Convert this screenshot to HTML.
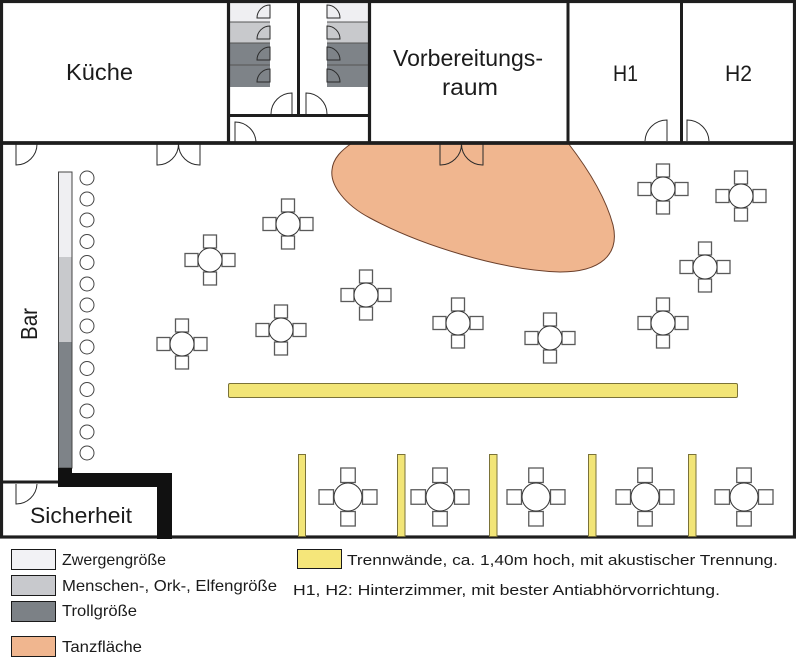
<!DOCTYPE html>
<html>
<head>
<meta charset="utf-8">
<style>
  html,body{margin:0;padding:0;background:#fff;}
  svg{display:block;}
  .lbl{font-family:"Liberation Sans","DejaVu Sans",sans-serif;fill:#1b1b1b;}
</style>
</head>
<body>
<svg width="796" height="661" viewBox="0 0 796 661" xmlns="http://www.w3.org/2000/svg">
  <defs>
    <g id="ts">
      <g fill="#fff" stroke="#5a5a5a" stroke-width="1.3">
        <rect x="-6.5" y="-25" width="13" height="13"/>
        <rect x="-6.5" y="12" width="13" height="13"/>
        <rect x="-25" y="-6.5" width="13" height="13"/>
        <rect x="12" y="-6.5" width="13" height="13"/>
      </g>
      <circle r="12" fill="#fff" stroke="#333" stroke-width="1"/>
    </g>
    <g id="tl">
      <g fill="#fff" stroke="#5a5a5a" stroke-width="1.3">
        <rect x="-7.25" y="-29" width="14.5" height="14.5"/>
        <rect x="-7.25" y="14.5" width="14.5" height="14.5"/>
        <rect x="-29" y="-7.25" width="14.5" height="14.5"/>
        <rect x="14.5" y="-7.25" width="14.5" height="14.5"/>
      </g>
      <circle r="14" fill="#fff" stroke="#333" stroke-width="1"/>
    </g>
  </defs>

  <rect width="796" height="661" fill="#fff"/>

  <!-- Tanzfläche -->
  <path d="M352,143 L568,143 C585,165 605,195 613,225 C620,255 600,272 560,272 C500,270 420,245 370,218 C345,205 330,185 332,170 C333,158 342,150 352,143 Z" fill="#f0b68f" stroke="#6b3f2a" stroke-width="1"/>

  <!-- Toilet stalls -->
  <rect x="230" y="3" width="40" height="19" fill="#efeff2"/>
  <rect x="230" y="22" width="40" height="21" fill="#c8c9cc"/>
  <rect x="230" y="43" width="40" height="22" fill="#7e8388"/>
  <rect x="230" y="65" width="40" height="22" fill="#7e8388"/>
  <rect x="327" y="3" width="41" height="19" fill="#efeff2"/>
  <rect x="327" y="22" width="41" height="21" fill="#c8c9cc"/>
  <rect x="327" y="43" width="41" height="22" fill="#7e8388"/>
  <rect x="327" y="65" width="41" height="22" fill="#7e8388"/>
  <g stroke="#555" stroke-width="1">
    <line x1="230" y1="22" x2="270" y2="22"/>
    <line x1="230" y1="43" x2="270" y2="43"/>
    <line x1="230" y1="65" x2="270" y2="65"/>
    <line x1="327" y1="22" x2="368" y2="22"/>
    <line x1="327" y1="43" x2="368" y2="43"/>
    <line x1="327" y1="65" x2="368" y2="65"/>
  </g>
  <!-- stall doors -->
  <g fill="none" stroke="#2a2a2a" stroke-width="1">
    <path d="M270,5 A13,13 0 0 0 257,18 L270,18 Z"/>
    <path d="M270,26 A13,13 0 0 0 257,39 L270,39 Z"/>
    <path d="M270,47 A13,13 0 0 0 257,60 L270,60 Z"/>
    <path d="M270,69 A13,13 0 0 0 257,82 L270,82 Z"/>
    <path d="M327,5 A13,13 0 0 1 340,18 L327,18 Z"/>
    <path d="M327,26 A13,13 0 0 1 340,39 L327,39 Z"/>
    <path d="M327,47 A13,13 0 0 1 340,60 L327,60 Z"/>
    <path d="M327,69 A13,13 0 0 1 340,82 L327,82 Z"/>
    <!-- toilet exit doors -->
    <path d="M271,114 A21,21 0 0 1 292,93 L292,114"/>
    <path d="M327,114 A21,21 0 0 0 306,93 L306,114"/>
    <path d="M235,143 L235,122 A21,21 0 0 1 256,143"/>
    <!-- main hall top doors -->
    <path d="M16,144 L16,165 A21,21 0 0 0 37,144"/>
    <path d="M157,144 L157,165 A21,21 0 0 0 178.5,144"/>
    <path d="M200,144 L200,165 A21,21 0 0 1 178.5,144"/>
    <path d="M440,144 L440,165 A21,21 0 0 0 461.5,144"/>
    <path d="M483,144 L483,165 A21,21 0 0 1 461.5,144"/>
    <!-- H1/H2 doors -->
    <path d="M645,141 A22,22 0 0 1 667,120 L667,141"/>
    <path d="M709,141 A22,22 0 0 0 687,120 L687,141"/>
    <!-- Sicherheit door -->
    <path d="M16,484 L16,504 A21,21 0 0 0 37,484"/>
  </g>

  <!-- Walls -->
  <g stroke="#1e1e1e" fill="none">
    <rect x="1.5" y="1.5" width="793" height="535.5" stroke-width="3.2"/>
    <line x1="0" y1="143" x2="796" y2="143" stroke-width="3.8"/>
    <line x1="228.5" y1="0" x2="228.5" y2="143" stroke-width="3.2"/>
    <line x1="369.5" y1="0" x2="369.5" y2="143" stroke-width="3.2"/>
    <line x1="568" y1="0" x2="568" y2="143" stroke-width="3"/>
    <line x1="681.5" y1="0" x2="681.5" y2="143" stroke-width="3"/>
    <line x1="298.5" y1="0" x2="298.5" y2="116" stroke-width="3"/>
    <line x1="228" y1="115.5" x2="370" y2="115.5" stroke-width="3"/>
    <line x1="2" y1="482" x2="59" y2="482" stroke-width="3"/>
  </g>

  <!-- Bar counter -->
  <rect x="58.5" y="172" width="13.5" height="85" fill="#efeff2"/>
  <rect x="58.5" y="257" width="13.5" height="85" fill="#c8c9cc"/>
  <rect x="58.5" y="342" width="13.5" height="126" fill="#7e8388"/>
  <rect x="58.5" y="172" width="13.5" height="296" fill="none" stroke="#444" stroke-width="1"/>
  <!-- thick black wall -->
  <g fill="#111">
    <rect x="58" y="468" width="14" height="19"/>
    <rect x="58" y="473" width="114" height="14"/>
    <rect x="157" y="473" width="15" height="66"/>
  </g>

  <!-- Bar stools -->
  <g fill="#fff" stroke="#444" stroke-width="1">
    <circle cx="87" cy="178" r="7"/>
    <circle cx="87" cy="199" r="7"/>
    <circle cx="87" cy="220" r="7"/>
    <circle cx="87" cy="241.5" r="7"/>
    <circle cx="87" cy="262.5" r="7"/>
    <circle cx="87" cy="284" r="7"/>
    <circle cx="87" cy="305" r="7"/>
    <circle cx="87" cy="326" r="7"/>
    <circle cx="87" cy="347" r="7"/>
    <circle cx="87" cy="368.5" r="7"/>
    <circle cx="87" cy="389.5" r="7"/>
    <circle cx="87" cy="411" r="7"/>
    <circle cx="87" cy="432" r="7"/>
    <circle cx="87" cy="453" r="7"/>
  </g>

  <!-- Tables -->
  <use href="#ts" x="288" y="224"/>
  <use href="#ts" x="210" y="260"/>
  <use href="#ts" x="366" y="295"/>
  <use href="#ts" x="281" y="330"/>
  <use href="#ts" x="182" y="344"/>
  <use href="#ts" x="458" y="323"/>
  <use href="#ts" x="550" y="338"/>
  <use href="#ts" x="663" y="189"/>
  <use href="#ts" x="741" y="196"/>
  <use href="#ts" x="705" y="267"/>
  <use href="#ts" x="663" y="323"/>

  <use href="#tl" x="348" y="497"/>
  <use href="#tl" x="440" y="497"/>
  <use href="#tl" x="536" y="497"/>
  <use href="#tl" x="645" y="497"/>
  <use href="#tl" x="744" y="497"/>

  <!-- Partitions -->
  <g fill="#f2e577" stroke="#7a7238" stroke-width="1">
    <rect x="228.5" y="383.5" width="509" height="14" rx="1.5"/>
    <rect x="298.5" y="454.5" width="7" height="82"/>
    <rect x="397.5" y="454.5" width="7.5" height="82"/>
    <rect x="489.5" y="454.5" width="7.5" height="82"/>
    <rect x="588.5" y="454.5" width="7.5" height="82"/>
    <rect x="688.5" y="454.5" width="7.5" height="82"/>
  </g>

  <!-- Room labels -->
  <text class="lbl" x="66" y="80" font-size="23" textLength="67" lengthAdjust="spacingAndGlyphs">Küche</text>
  <text class="lbl" x="393" y="66" font-size="23" textLength="150" lengthAdjust="spacingAndGlyphs">Vorbereitungs-</text>
  <text class="lbl" x="442" y="95" font-size="23" textLength="56" lengthAdjust="spacingAndGlyphs">raum</text>
  <text class="lbl" x="613" y="81" font-size="22" textLength="25" lengthAdjust="spacingAndGlyphs">H1</text>
  <text class="lbl" x="725" y="81" font-size="22" textLength="27" lengthAdjust="spacingAndGlyphs">H2</text>
  <text class="lbl" x="30" y="523" font-size="22" textLength="102" lengthAdjust="spacingAndGlyphs">Sicherheit</text>
  <text class="lbl" font-size="23" textLength="32" lengthAdjust="spacingAndGlyphs" transform="translate(37,340) rotate(-90)">Bar</text>

  <!-- Legend -->
  <g stroke="#1a1a1a" stroke-width="1">
    <rect x="11.5" y="549.5" width="44" height="20" fill="#f2f2f5"/>
    <rect x="11.5" y="575.5" width="44" height="20" fill="#c8c9cd"/>
    <rect x="11.5" y="601.5" width="44" height="20" fill="#7c8186"/>
    <rect x="11.5" y="636.5" width="44" height="20" fill="#f0b68f"/>
    <rect x="297.5" y="549.5" width="44" height="19" fill="#f5e67a"/>
  </g>
  <g class="lbl" font-size="16">
    <text x="62" y="565" textLength="104" lengthAdjust="spacingAndGlyphs">Zwergengröße</text>
    <text x="62" y="591" textLength="215" lengthAdjust="spacingAndGlyphs">Menschen-, Ork-, Elfengröße</text>
    <text x="62" y="616" textLength="75" lengthAdjust="spacingAndGlyphs">Trollgröße</text>
    <text x="62" y="652" textLength="80" lengthAdjust="spacingAndGlyphs">Tanzfläche</text>
  </g>
  <g class="lbl" font-size="14.5">
    <text x="347" y="565" textLength="431" lengthAdjust="spacingAndGlyphs">Trennwände, ca. 1,40m hoch, mit akustischer Trennung.</text>
    <text x="293" y="595" textLength="427" lengthAdjust="spacingAndGlyphs">H1, H2: Hinterzimmer, mit bester Antiabhörvorrichtung.</text>
  </g>
</svg>
</body>
</html>
